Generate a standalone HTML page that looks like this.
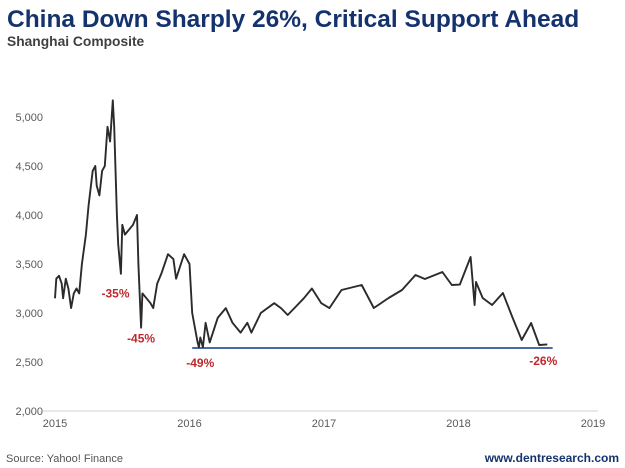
<!DOCTYPE html>
<html><head><meta charset="utf-8"><style>
body{margin:0;background:#fff;}
#wrap{position:relative;width:625px;height:468px;overflow:hidden;font-family:"Liberation Sans",sans-serif;}
</style></head><body>
<div id="wrap">
<svg id="svg" width="625" height="468" xmlns="http://www.w3.org/2000/svg" font-family="Liberation Sans, sans-serif">
<text x="7" y="27" font-size="24.5" font-weight="bold" fill="#14336e">China Down Sharply 26%, Critical Support Ahead</text>
<text x="7" y="46" font-size="13.8" font-weight="bold" fill="#404040">Shanghai Composite</text>
<text x="6" y="462" font-size="11" fill="#555">Source: Yahoo! Finance</text>
<text x="619" y="462" font-size="12" font-weight="bold" fill="#14336e" text-anchor="end">www.dentresearch.com</text>
<g id="axes"></g>
<g id="marks"></g>
</svg>
</div>
<script>
const yTicks=[2000,2500,3000,3500,4000,4500,5000];
const yTickLabels=["2,000","2,500","3,000","3,500","4,000","4,500","5,000"];
const xTicks=[2015,2016,2017,2018,2019];
const dates=[2015.00,2015.01,2015.03,2015.05,2015.06,2015.08,2015.10,2015.12,2015.14,2015.16,2015.18,2015.20,2015.23,2015.25,2015.28,2015.30,2015.31,2015.33,2015.35,2015.37,2015.39,2015.41,2015.43,2015.44,2015.46,2015.47,2015.49,2015.50,2015.52,2015.55,2015.58,2015.61,2015.62,2015.64,2015.65,2015.68,2015.71,2015.73,2015.76,2015.79,2015.84,2015.88,2015.90,2015.96,2016.00,2016.02,2016.06,2016.07,2016.08,2016.10,2016.12,2016.15,2016.21,2016.27,2016.32,2016.38,2016.43,2016.46,2016.53,2016.63,2016.68,2016.73,2016.78,2016.85,2016.91,2016.98,2017.04,2017.13,2017.28,2017.37,2017.48,2017.58,2017.68,2017.75,2017.88,2017.95,2018.01,2018.09,2018.12,2018.13,2018.18,2018.25,2018.33,2018.40,2018.47,2018.54,2018.60,2018.66];
const values=[3150,3350,3380,3300,3150,3350,3250,3050,3200,3250,3200,3500,3800,4100,4450,4500,4300,4200,4450,4500,4900,4750,5170,4900,4000,3700,3400,3900,3800,3850,3900,4000,3500,2850,3200,3150,3100,3050,3300,3400,3600,3550,3350,3600,3500,3000,2700,2650,2750,2650,2900,2700,2950,3050,2900,2800,2900,2800,3000,3100,3050,2980,3050,3150,3250,3100,3050,3235,3286,3051,3153,3235,3388,3347,3418,3286,3290,3571,3082,3316,3153,3082,3204,2959,2724,2898,2673,2680];
const supportLevel=2643;
const supportRange=[2016.02,2018.70];
const annoLabels=["-35%","-45%","-49%","-26%"];
const annoDates=[2015.45,2015.64,2016.08,2018.63];
const annoValues=[3300,2840,2590,2610];

const X0=55,X1=593,Y0=411,Y1=117;
const xs=t=>X0+(t-2015)/(2019-2015)*(X1-X0);
const ys=v=>Y0-(v-2000)/(5000-2000)*(Y0-Y1);
const NS="http://www.w3.org/2000/svg";
const axes=document.getElementById('axes'),marks=document.getElementById('marks');
function mk(tag,attrs,parent){const e=document.createElementNS(NS,tag);for(const k in attrs)e.setAttribute(k,attrs[k]);parent.appendChild(e);return e;}
const base=mk('line',{x1:43,x2:598,y1:Y0,y2:Y0,stroke:'#d9d9d9','stroke-width':1.2},axes);


yTicks.forEach((v,i)=>{const t=mk('text',{x:43,y:ys(v)+4,'font-size':11,fill:'#595959','text-anchor':'end'},axes);t.textContent=yTickLabels[i];

});
xTicks.forEach(y=>{const t=mk('text',{x:xs(y),y:Y0+16,'font-size':11,fill:'#595959','text-anchor':'middle'},axes);t.textContent=String(y);

});
const sl=mk('line',{x1:xs(supportRange[0]),x2:xs(supportRange[1]),y1:ys(supportLevel),y2:ys(supportLevel),stroke:'#2f5597','stroke-width':1.8},marks);


let d='';dates.forEach((t,i)=>{d+=(i?'L':'M')+xs(t).toFixed(1)+','+ys(values[i]).toFixed(1);});
const p=mk('path',{d:d,fill:'none',stroke:'#2b2b2b','stroke-width':1.9,'stroke-linejoin':'round'},marks);


annoLabels.forEach((s,i)=>{const t=mk('text',{x:xs(annoDates[i]),y:ys(annoValues[i])+14,'font-size':12,'font-weight':'bold',fill:'#c0282d','text-anchor':'middle'},marks);t.textContent=s;

});
</script>
</body></html>
